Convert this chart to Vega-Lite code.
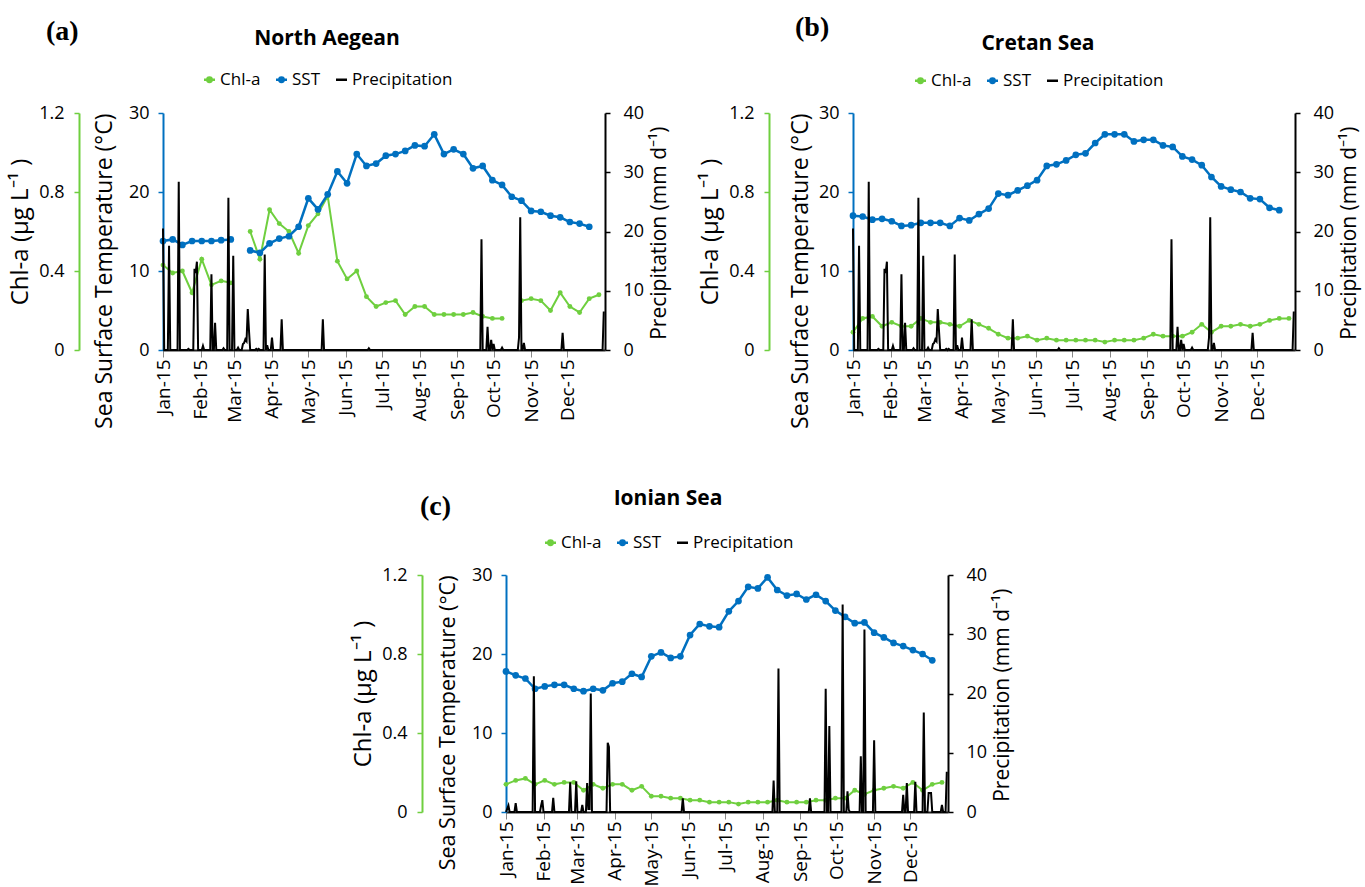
{
  "$schema": "https://vega.github.io/schema/vega-lite/v6.json",
  "background": "white",
  "padding": {"left": 8, "top": 14, "right": 2, "bottom": 0},
  "config": {
    "font": "Open Sans",
    "view": {"stroke": null},
    "axis": {"labelFont": "Open Sans", "titleFont": "Open Sans", "labelFontSize": 18, "titleFontSize": 22, "titleFontWeight": "normal", "labelColor": "#000", "titleColor": "#000", "domainWidth": 2, "tickWidth": 1.5, "tickSize": 5, "grid": false},
    "axisX": {"labelFontSize": 19, "tickSize": 7, "domainColor": "#222", "tickColor": "#888", "tickWidth": 1},
    "legend": {"labelFont": "Open Sans", "labelFontSize": 17, "labelColor": "#000", "titleFont": "Open Sans", "titleFontSize": 21, "titleFontWeight": "bold", "titleColor": "#000"},
    "title": {"offset": 0}
  },
  "resolve": {"scale": {"color": "independent"}, "legend": {"color": "independent"}},
  "datasets": {
    "eight": [
      {"region":"N","date":"2015-01-01","chl":0.43,"sst":13.8},{"region":"N","date":"2015-01-09","chl":0.39,"sst":14.0},{"region":"N","date":"2015-01-17","chl":0.40,"sst":13.3},{"region":"N","date":"2015-01-25","chl":0.29,"sst":13.8},{"region":"N","date":"2015-02-02","chl":0.46,"sst":13.8},{"region":"N","date":"2015-02-10","chl":0.33,"sst":13.8},{"region":"N","date":"2015-02-18","chl":0.35,"sst":13.9},{"region":"N","date":"2015-02-26","chl":0.34,"sst":14.0},{"region":"N","date":"2015-03-06","chl":null,"sst":null},{"region":"N","date":"2015-03-14","chl":0.60,"sst":12.6},{"region":"N","date":"2015-03-22","chl":0.46,"sst":12.3},{"region":"N","date":"2015-03-30","chl":0.71,"sst":13.5},{"region":"N","date":"2015-04-07","chl":0.64,"sst":14.1},{"region":"N","date":"2015-04-15","chl":0.60,"sst":14.4},{"region":"N","date":"2015-04-23","chl":0.49,"sst":15.6},{"region":"N","date":"2015-05-01","chl":0.63,"sst":19.2},{"region":"N","date":"2015-05-09","chl":0.69,"sst":17.8},{"region":"N","date":"2015-05-17","chl":0.78,"sst":19.7},{"region":"N","date":"2015-05-25","chl":0.45,"sst":22.6},{"region":"N","date":"2015-06-02","chl":0.36,"sst":21.1},{"region":"N","date":"2015-06-10","chl":0.40,"sst":24.8},{"region":"N","date":"2015-06-18","chl":0.27,"sst":23.3},{"region":"N","date":"2015-06-26","chl":0.22,"sst":23.6},{"region":"N","date":"2015-07-04","chl":0.24,"sst":24.6},{"region":"N","date":"2015-07-12","chl":0.25,"sst":24.8},{"region":"N","date":"2015-07-20","chl":0.18,"sst":25.2},{"region":"N","date":"2015-07-28","chl":0.22,"sst":25.9},{"region":"N","date":"2015-08-05","chl":0.22,"sst":25.8},{"region":"N","date":"2015-08-13","chl":0.18,"sst":27.3},{"region":"N","date":"2015-08-21","chl":0.18,"sst":24.8},{"region":"N","date":"2015-08-29","chl":0.18,"sst":25.4},{"region":"N","date":"2015-09-06","chl":0.18,"sst":24.8},{"region":"N","date":"2015-09-14","chl":0.19,"sst":23.0},{"region":"N","date":"2015-09-22","chl":0.17,"sst":23.3},{"region":"N","date":"2015-09-30","chl":0.16,"sst":21.5},{"region":"N","date":"2015-10-08","chl":0.16,"sst":20.9},{"region":"N","date":"2015-10-16","chl":null,"sst":19.4},{"region":"N","date":"2015-10-24","chl":0.25,"sst":18.9},{"region":"N","date":"2015-11-01","chl":0.26,"sst":17.6},{"region":"N","date":"2015-11-09","chl":0.25,"sst":17.5},{"region":"N","date":"2015-11-17","chl":0.20,"sst":17.0},{"region":"N","date":"2015-11-25","chl":0.29,"sst":16.8},{"region":"N","date":"2015-12-03","chl":0.22,"sst":16.2},{"region":"N","date":"2015-12-11","chl":0.19,"sst":16.0},{"region":"N","date":"2015-12-19","chl":0.26,"sst":15.6},{"region":"N","date":"2015-12-27","chl":0.28,"sst":null},
      {"region":"C","date":"2015-01-01","chl":0.09,"sst":17.0},{"region":"C","date":"2015-01-09","chl":0.16,"sst":16.9},{"region":"C","date":"2015-01-17","chl":0.17,"sst":16.5},{"region":"C","date":"2015-01-25","chl":0.12,"sst":16.6},{"region":"C","date":"2015-02-02","chl":0.14,"sst":16.3},{"region":"C","date":"2015-02-10","chl":0.12,"sst":15.7},{"region":"C","date":"2015-02-18","chl":0.12,"sst":15.8},{"region":"C","date":"2015-02-26","chl":0.16,"sst":16.1},{"region":"C","date":"2015-03-06","chl":0.14,"sst":16.1},{"region":"C","date":"2015-03-14","chl":0.14,"sst":16.1},{"region":"C","date":"2015-03-22","chl":0.13,"sst":15.7},{"region":"C","date":"2015-03-30","chl":0.12,"sst":16.7},{"region":"C","date":"2015-04-07","chl":0.15,"sst":16.4},{"region":"C","date":"2015-04-15","chl":0.13,"sst":17.2},{"region":"C","date":"2015-04-23","chl":0.11,"sst":17.9},{"region":"C","date":"2015-05-01","chl":0.08,"sst":19.8},{"region":"C","date":"2015-05-09","chl":0.06,"sst":19.6},{"region":"C","date":"2015-05-17","chl":0.06,"sst":20.2},{"region":"C","date":"2015-05-25","chl":0.07,"sst":20.8},{"region":"C","date":"2015-06-02","chl":0.05,"sst":21.5},{"region":"C","date":"2015-06-10","chl":0.06,"sst":23.3},{"region":"C","date":"2015-06-18","chl":0.05,"sst":23.5},{"region":"C","date":"2015-06-26","chl":0.05,"sst":24.0},{"region":"C","date":"2015-07-04","chl":0.05,"sst":24.7},{"region":"C","date":"2015-07-12","chl":0.05,"sst":24.9},{"region":"C","date":"2015-07-20","chl":0.05,"sst":26.2},{"region":"C","date":"2015-07-28","chl":0.04,"sst":27.3},{"region":"C","date":"2015-08-05","chl":0.05,"sst":27.3},{"region":"C","date":"2015-08-13","chl":0.05,"sst":27.3},{"region":"C","date":"2015-08-21","chl":0.05,"sst":26.4},{"region":"C","date":"2015-08-29","chl":0.06,"sst":26.6},{"region":"C","date":"2015-09-06","chl":0.08,"sst":26.6},{"region":"C","date":"2015-09-14","chl":0.07,"sst":25.9},{"region":"C","date":"2015-09-22","chl":0.07,"sst":25.7},{"region":"C","date":"2015-09-30","chl":0.07,"sst":24.5},{"region":"C","date":"2015-10-08","chl":0.09,"sst":24.1},{"region":"C","date":"2015-10-16","chl":0.13,"sst":23.4},{"region":"C","date":"2015-10-24","chl":0.09,"sst":21.9},{"region":"C","date":"2015-11-01","chl":0.12,"sst":20.7},{"region":"C","date":"2015-11-09","chl":0.12,"sst":20.3},{"region":"C","date":"2015-11-17","chl":0.13,"sst":20.0},{"region":"C","date":"2015-11-25","chl":0.12,"sst":19.2},{"region":"C","date":"2015-12-03","chl":0.13,"sst":19.1},{"region":"C","date":"2015-12-11","chl":0.15,"sst":18.0},{"region":"C","date":"2015-12-19","chl":0.16,"sst":17.7},{"region":"C","date":"2015-12-27","chl":0.16,"sst":null},
      {"region":"I","date":"2015-01-01","chl":0.14,"sst":17.8},{"region":"I","date":"2015-01-09","chl":0.16,"sst":17.3},{"region":"I","date":"2015-01-17","chl":0.17,"sst":16.9},{"region":"I","date":"2015-01-25","chl":0.14,"sst":15.6},{"region":"I","date":"2015-02-02","chl":0.16,"sst":15.9},{"region":"I","date":"2015-02-10","chl":0.14,"sst":16.1},{"region":"I","date":"2015-02-18","chl":0.15,"sst":16.1},{"region":"I","date":"2015-02-26","chl":0.15,"sst":15.6},{"region":"I","date":"2015-03-06","chl":0.11,"sst":15.3},{"region":"I","date":"2015-03-14","chl":0.14,"sst":15.6},{"region":"I","date":"2015-03-22","chl":0.12,"sst":15.4},{"region":"I","date":"2015-03-30","chl":0.14,"sst":16.3},{"region":"I","date":"2015-04-07","chl":0.14,"sst":16.5},{"region":"I","date":"2015-04-15","chl":0.11,"sst":17.5},{"region":"I","date":"2015-04-23","chl":0.13,"sst":17.1},{"region":"I","date":"2015-05-01","chl":0.08,"sst":19.7},{"region":"I","date":"2015-05-09","chl":0.08,"sst":20.2},{"region":"I","date":"2015-05-17","chl":0.07,"sst":19.5},{"region":"I","date":"2015-05-25","chl":0.07,"sst":19.7},{"region":"I","date":"2015-06-02","chl":0.06,"sst":22.4},{"region":"I","date":"2015-06-10","chl":0.06,"sst":23.8},{"region":"I","date":"2015-06-18","chl":0.05,"sst":23.5},{"region":"I","date":"2015-06-26","chl":0.05,"sst":23.4},{"region":"I","date":"2015-07-04","chl":0.05,"sst":25.4},{"region":"I","date":"2015-07-12","chl":0.04,"sst":26.7},{"region":"I","date":"2015-07-20","chl":0.05,"sst":28.5},{"region":"I","date":"2015-07-28","chl":0.05,"sst":28.3},{"region":"I","date":"2015-08-05","chl":0.05,"sst":29.7},{"region":"I","date":"2015-08-13","chl":0.06,"sst":28.1},{"region":"I","date":"2015-08-21","chl":0.05,"sst":27.4},{"region":"I","date":"2015-08-29","chl":0.05,"sst":27.6},{"region":"I","date":"2015-09-06","chl":0.05,"sst":26.9},{"region":"I","date":"2015-09-14","chl":0.06,"sst":27.5},{"region":"I","date":"2015-09-22","chl":0.06,"sst":26.7},{"region":"I","date":"2015-09-30","chl":0.07,"sst":25.5},{"region":"I","date":"2015-10-08","chl":0.07,"sst":24.7},{"region":"I","date":"2015-10-16","chl":0.11,"sst":23.9},{"region":"I","date":"2015-10-24","chl":0.09,"sst":24.0},{"region":"I","date":"2015-11-01","chl":0.11,"sst":22.7},{"region":"I","date":"2015-11-09","chl":0.12,"sst":22.1},{"region":"I","date":"2015-11-17","chl":0.13,"sst":21.4},{"region":"I","date":"2015-11-25","chl":0.12,"sst":21.0},{"region":"I","date":"2015-12-03","chl":0.15,"sst":20.5},{"region":"I","date":"2015-12-11","chl":0.11,"sst":20.0},{"region":"I","date":"2015-12-19","chl":0.14,"sst":19.2},{"region":"I","date":"2015-12-27","chl":0.15,"sst":null}
    ],
    "pAB": [
      {"date":"2015-01-01","p":20.5},{"date":"2015-01-02","p":0},{"date":"2015-01-05","p":0},{"date":"2015-01-06","p":17.6},{"date":"2015-01-07","p":0},{"date":"2015-01-13","p":0},{"date":"2015-01-14","p":28.4},{"date":"2015-01-15","p":0},{"date":"2015-01-21","p":0},{"date":"2015-01-22","p":0.2},{"date":"2015-01-23","p":0},{"date":"2015-01-26","p":0},{"date":"2015-01-27","p":13.7},{"date":"2015-01-28","p":13.0},{"date":"2015-01-29","p":14.9},{"date":"2015-01-30","p":0},{"date":"2015-02-02","p":0},{"date":"2015-02-03","p":0.7},{"date":"2015-02-04","p":0},{"date":"2015-02-09","p":0},{"date":"2015-02-10","p":12.8},{"date":"2015-02-11","p":0},{"date":"2015-02-12","p":0},{"date":"2015-02-13","p":4.6},{"date":"2015-02-14","p":0},{"date":"2015-02-19","p":0},{"date":"2015-02-20","p":0.3},{"date":"2015-02-21","p":0},{"date":"2015-02-23","p":0},{"date":"2015-02-24","p":25.7},{"date":"2015-02-25","p":0},{"date":"2015-02-27","p":0},{"date":"2015-02-28","p":15.9},{"date":"2015-03-01","p":0},{"date":"2015-03-03","p":0},{"date":"2015-03-04","p":0.4},{"date":"2015-03-05","p":0},{"date":"2015-03-07","p":0},{"date":"2015-03-08","p":1.0},{"date":"2015-03-09","p":1.2},{"date":"2015-03-10","p":1.8},{"date":"2015-03-11","p":1.5},{"date":"2015-03-12","p":6.9},{"date":"2015-03-13","p":3.3},{"date":"2015-03-14","p":0},{"date":"2015-03-18","p":0},{"date":"2015-03-19","p":0.2},{"date":"2015-03-20","p":0},{"date":"2015-03-21","p":0.2},{"date":"2015-03-22","p":0},{"date":"2015-03-25","p":0},{"date":"2015-03-26","p":16.1},{"date":"2015-03-27","p":0},{"date":"2015-03-28","p":0.8},{"date":"2015-03-29","p":0},{"date":"2015-03-31","p":0},{"date":"2015-04-01","p":2.1},{"date":"2015-04-02","p":0},{"date":"2015-04-08","p":0},{"date":"2015-04-09","p":5.2},{"date":"2015-04-10","p":0},{"date":"2015-05-12","p":0},{"date":"2015-05-13","p":5.2},{"date":"2015-05-14","p":0},{"date":"2015-06-19","p":0},{"date":"2015-06-20","p":0.3},{"date":"2015-06-21","p":0},{"date":"2015-09-20","p":0},{"date":"2015-09-21","p":18.7},{"date":"2015-09-22","p":0},{"date":"2015-09-25","p":0},{"date":"2015-09-26","p":3.9},{"date":"2015-09-27","p":0},{"date":"2015-09-28","p":0},{"date":"2015-09-29","p":1.7},{"date":"2015-09-30","p":0},{"date":"2015-10-01","p":1.0},{"date":"2015-10-02","p":0},{"date":"2015-10-07","p":0},{"date":"2015-10-08","p":0.4},{"date":"2015-10-09","p":0},{"date":"2015-10-21","p":0},{"date":"2015-10-22","p":2.1},{"date":"2015-10-23","p":22.4},{"date":"2015-10-24","p":0},{"date":"2015-10-25","p":0},{"date":"2015-10-26","p":1.2},{"date":"2015-10-27","p":0},{"date":"2015-11-26","p":0},{"date":"2015-11-27","p":2.9},{"date":"2015-11-28","p":0},{"date":"2015-12-30","p":0},{"date":"2015-12-31","p":6.5}
    ],
    "pC": [
      {"date":"2015-01-01","p":0},{"date":"2015-01-03","p":1.1},{"date":"2015-01-04","p":0},{"date":"2015-01-08","p":0},{"date":"2015-01-09","p":1.5},{"date":"2015-01-10","p":0},{"date":"2015-01-23","p":0},{"date":"2015-01-24","p":22.9},{"date":"2015-01-25","p":0},{"date":"2015-01-29","p":0},{"date":"2015-01-30","p":1.1},{"date":"2015-01-31","p":2.0},{"date":"2015-02-01","p":0},{"date":"2015-02-08","p":0},{"date":"2015-02-09","p":2.4},{"date":"2015-02-10","p":0},{"date":"2015-02-22","p":0},{"date":"2015-02-23","p":5.0},{"date":"2015-02-24","p":0},{"date":"2015-02-27","p":0},{"date":"2015-02-28","p":5.2},{"date":"2015-03-01","p":0},{"date":"2015-03-04","p":0},{"date":"2015-03-05","p":1.2},{"date":"2015-03-06","p":0},{"date":"2015-03-08","p":0},{"date":"2015-03-09","p":4.9},{"date":"2015-03-10","p":0.5},{"date":"2015-03-11","p":0.5},{"date":"2015-03-12","p":20.0},{"date":"2015-03-13","p":0},{"date":"2015-03-25","p":0},{"date":"2015-03-26","p":11.7},{"date":"2015-03-27","p":11.0},{"date":"2015-03-28","p":0},{"date":"2015-05-26","p":0},{"date":"2015-05-27","p":2.3},{"date":"2015-05-28","p":0},{"date":"2015-08-09","p":0},{"date":"2015-08-10","p":5.3},{"date":"2015-08-11","p":0},{"date":"2015-08-13","p":0},{"date":"2015-08-14","p":24.2},{"date":"2015-08-15","p":0},{"date":"2015-09-08","p":0},{"date":"2015-09-09","p":2.3},{"date":"2015-09-10","p":0},{"date":"2015-09-21","p":0},{"date":"2015-09-22","p":20.8},{"date":"2015-09-23","p":0},{"date":"2015-09-24","p":0},{"date":"2015-09-25","p":14.5},{"date":"2015-09-26","p":0},{"date":"2015-10-05","p":0},{"date":"2015-10-06","p":35.0},{"date":"2015-10-07","p":0},{"date":"2015-10-09","p":0},{"date":"2015-10-10","p":3.5},{"date":"2015-10-11","p":0.4},{"date":"2015-10-12","p":0},{"date":"2015-10-20","p":0},{"date":"2015-10-21","p":9.4},{"date":"2015-10-22","p":0},{"date":"2015-10-23","p":0},{"date":"2015-10-24","p":30.8},{"date":"2015-10-25","p":0},{"date":"2015-10-31","p":0},{"date":"2015-11-01","p":12.1},{"date":"2015-11-02","p":0},{"date":"2015-11-24","p":0},{"date":"2015-11-25","p":2.9},{"date":"2015-11-26","p":0},{"date":"2015-11-27","p":0},{"date":"2015-11-28","p":4.9},{"date":"2015-11-29","p":0},{"date":"2015-12-04","p":0},{"date":"2015-12-05","p":5.1},{"date":"2015-12-06","p":0},{"date":"2015-12-11","p":0},{"date":"2015-12-12","p":16.8},{"date":"2015-12-13","p":0},{"date":"2015-12-15","p":0},{"date":"2015-12-16","p":3.2},{"date":"2015-12-17","p":3.2},{"date":"2015-12-18","p":3.2},{"date":"2015-12-19","p":0},{"date":"2015-12-26","p":0},{"date":"2015-12-27","p":1.2},{"date":"2015-12-28","p":0},{"date":"2015-12-30","p":0},{"date":"2015-12-31","p":6.8}
    ]
  },
  "spacing": 59,
  "vconcat": [
    {
      "spacing": 28,
      "resolve": {"scale": {"color": "independent"}, "legend": {"color": "independent"}},
      "hconcat": [
        {
          "width": 442, "height": 237,
          "title": {"text": "(a)", "anchor": "start", "frame": "group", "dx": -117, "dy": 22, "font": "Liberation Serif", "fontSize": 28, "fontWeight": "bold", "color": "#000"},
          "encoding": {"x": {"field": "date", "type": "temporal", "scale": {"type": "utc", "domain": [{"year":2015,"month":1,"date":1,"utc":true},{"year":2016,"month":1,"date":1,"utc":true}]}, "axis": {"title": null, "format": "%b-%y", "labelAngle": -90, "values": [{"year":2015,"month":1,"date":1,"utc":true},{"year":2015,"month":2,"date":1,"utc":true},{"year":2015,"month":3,"date":1,"utc":true},{"year":2015,"month":4,"date":1,"utc":true},{"year":2015,"month":5,"date":1,"utc":true},{"year":2015,"month":6,"date":1,"utc":true},{"year":2015,"month":7,"date":1,"utc":true},{"year":2015,"month":8,"date":1,"utc":true},{"year":2015,"month":9,"date":1,"utc":true},{"year":2015,"month":10,"date":1,"utc":true},{"year":2015,"month":11,"date":1,"utc":true},{"year":2015,"month":12,"date":1,"utc":true}]}}},
          "layer": [
            {
              "data": {"name": "eight"}, "transform": [{"filter": "datum.region === 'N'"}],
              "mark": {"type": "line", "strokeWidth": 2, "invalid": "break-paths-show-domains", "point": {"filled": true, "size": 24}},
              "encoding": {
                "y": {"field": "chl", "type": "quantitative", "scale": {"domain": [0, 1.2], "nice": false}, "axis": {"orient": "left", "offset": 84, "values": [0, 0.4, 0.8, 1.2], "labelExpr": "datum.value === 0 ? '0' : format(datum.value, '.1f')", "domainColor": "#6FCF3F", "tickColor": "#6FCF3F", "title": "Chl-a (μg L⁻¹ )", "titleFontSize": 24, "titlePadding": 6, "labelPadding": 10}},
                "color": {"datum": "Chl-a", "scale": {"domain": ["Chl-a", "SST", "Precipitation"], "range": ["#6FCF3F", "#0070C0", "#000000"]},
                  "legend": {"orient": "none", "legendX": 38, "legendY": -85, "direction": "horizontal", "title": "North Aegean", "titleAnchor": "middle", "titleAlign": "center", "titlePadding": 22, "symbolSize": 121, "symbolStrokeWidth": 2.5, "columnPadding": 10, "labelOffset": 2,
                    "encode": {"symbols": {"update": {"shape": {"signal": "datum.value === 'Precipitation' ? 'stroke' : 'M-1,0H1M-0.4,0A0.4,0.4,0,1,1,0.4,0A0.4,0.4,0,1,1,-0.4,0Z'"}, "fill": {"signal": "datum.value === 'Chl-a' ? '#6FCF3F' : datum.value === 'SST' ? '#0070C0' : 'transparent'"}, "stroke": {"signal": "datum.value === 'Chl-a' ? '#6FCF3F' : datum.value === 'SST' ? '#0070C0' : '#000000'"}, "strokeWidth": {"value": 2.5}}}}}}
              }
            },
            {
              "data": {"name": "eight"}, "transform": [{"filter": "datum.region === 'N'"}],
              "mark": {"type": "line", "strokeWidth": 2.5, "invalid": "break-paths-show-domains", "point": {"filled": true, "size": 45}},
              "encoding": {
                "y": {"field": "sst", "type": "quantitative", "scale": {"domain": [0, 30], "nice": false}, "axis": {"orient": "left", "values": [0, 10, 20, 30], "domainColor": "#0070C0", "tickColor": "#0070C0", "title": "Sea Surface Temperature (°C)", "titleFontSize": 23, "titleAnchor": "end", "titlePadding": 12, "labelPadding": 9}},
                "color": {"datum": "SST"}
              }
            },
            {
              "data": {"name": "pAB"},
              "mark": {"type": "line", "strokeWidth": 2},
              "encoding": {
                "y": {"field": "p", "type": "quantitative", "scale": {"domain": [0, 40], "nice": false}, "axis": {"orient": "right", "values": [0, 10, 20, 30, 40], "domainColor": "#000", "tickColor": "#000", "title": "Precipitation (mm d⁻¹)", "titleFontSize": 21, "titleAngle": -90, "titleBaseline": "top", "titleAnchor": "end", "titleY": 13, "titlePadding": 5, "labelPadding": 13}},
                "color": {"datum": "Precipitation"}
              }
            }
          ],
          "resolve": {"scale": {"y": "independent"}}
        },
        {
          "width": 442, "height": 237,
          "title": {"text": "(b)", "anchor": "start", "frame": "group", "dx": -58, "dy": 13, "font": "Liberation Serif", "fontSize": 28, "fontWeight": "bold", "color": "#000"},
          "encoding": {"x": {"field": "date", "type": "temporal", "scale": {"type": "utc", "domain": [{"year":2015,"month":1,"date":1,"utc":true},{"year":2016,"month":1,"date":1,"utc":true}]}, "axis": {"title": null, "format": "%b-%y", "labelAngle": -90, "values": [{"year":2015,"month":1,"date":1,"utc":true},{"year":2015,"month":2,"date":1,"utc":true},{"year":2015,"month":3,"date":1,"utc":true},{"year":2015,"month":4,"date":1,"utc":true},{"year":2015,"month":5,"date":1,"utc":true},{"year":2015,"month":6,"date":1,"utc":true},{"year":2015,"month":7,"date":1,"utc":true},{"year":2015,"month":8,"date":1,"utc":true},{"year":2015,"month":9,"date":1,"utc":true},{"year":2015,"month":10,"date":1,"utc":true},{"year":2015,"month":11,"date":1,"utc":true},{"year":2015,"month":12,"date":1,"utc":true}]}}},
          "layer": [
            {
              "data": {"name": "eight"}, "transform": [{"filter": "datum.region === 'C'"}],
              "mark": {"type": "line", "strokeWidth": 2, "invalid": "break-paths-show-domains", "point": {"filled": true, "size": 24}},
              "encoding": {
                "y": {"field": "chl", "type": "quantitative", "scale": {"domain": [0, 1.2], "nice": false}, "axis": {"orient": "left", "offset": 84, "values": [0, 0.4, 0.8, 1.2], "labelExpr": "datum.value === 0 ? '0' : format(datum.value, '.1f')", "domainColor": "#6FCF3F", "tickColor": "#6FCF3F", "title": "Chl-a (μg L⁻¹ )", "titleFontSize": 24, "titlePadding": 6, "labelPadding": 10}},
                "color": {"datum": "Chl-a", "scale": {"domain": ["Chl-a", "SST", "Precipitation"], "range": ["#6FCF3F", "#0070C0", "#000000"]},
                  "legend": {"orient": "none", "legendX": 59, "legendY": -80, "direction": "horizontal", "title": "Cretan Sea", "titleAnchor": "middle", "titleAlign": "center", "titlePadding": 18, "symbolSize": 121, "symbolStrokeWidth": 2.5, "columnPadding": 10, "labelOffset": 2,
                    "encode": {"symbols": {"update": {"shape": {"signal": "datum.value === 'Precipitation' ? 'stroke' : 'M-1,0H1M-0.4,0A0.4,0.4,0,1,1,0.4,0A0.4,0.4,0,1,1,-0.4,0Z'"}, "fill": {"signal": "datum.value === 'Chl-a' ? '#6FCF3F' : datum.value === 'SST' ? '#0070C0' : 'transparent'"}, "stroke": {"signal": "datum.value === 'Chl-a' ? '#6FCF3F' : datum.value === 'SST' ? '#0070C0' : '#000000'"}, "strokeWidth": {"value": 2.5}}}}}}
              }
            },
            {
              "data": {"name": "eight"}, "transform": [{"filter": "datum.region === 'C'"}],
              "mark": {"type": "line", "strokeWidth": 2.5, "invalid": "break-paths-show-domains", "point": {"filled": true, "size": 45}},
              "encoding": {
                "y": {"field": "sst", "type": "quantitative", "scale": {"domain": [0, 30], "nice": false}, "axis": {"orient": "left", "values": [0, 10, 20, 30], "domainColor": "#0070C0", "tickColor": "#0070C0", "title": "Sea Surface Temperature (°C)", "titleFontSize": 23, "titleAnchor": "end", "titlePadding": 6, "labelPadding": 9}},
                "color": {"datum": "SST"}
              }
            },
            {
              "data": {"name": "pAB"},
              "mark": {"type": "line", "strokeWidth": 2},
              "encoding": {
                "y": {"field": "p", "type": "quantitative", "scale": {"domain": [0, 40], "nice": false}, "axis": {"orient": "right", "values": [0, 10, 20, 30, 40], "domainColor": "#000", "tickColor": "#000", "title": "Precipitation (mm d⁻¹)", "titleFontSize": 21, "titleAngle": -90, "titleBaseline": "top", "titleAnchor": "end", "titleY": 13, "titlePadding": 5, "labelPadding": 13}},
                "color": {"datum": "Precipitation"}
              }
            }
          ],
          "resolve": {"scale": {"y": "independent"}}
        }
      ]
    },
    {
      "spacing": 0,
      "resolve": {"scale": {"color": "independent"}, "legend": {"color": "independent"}},
      "hconcat": [
        {"width": 188, "height": 10, "data": {"values": []}, "mark": "point"},
        {
          "width": 442, "height": 237,
          "title": {"text": "(c)", "anchor": "start", "frame": "group", "dx": -86, "dy": 37, "font": "Liberation Serif", "fontSize": 28, "fontWeight": "bold", "color": "#000"},
          "encoding": {"x": {"field": "date", "type": "temporal", "scale": {"type": "utc", "domain": [{"year":2015,"month":1,"date":1,"utc":true},{"year":2016,"month":1,"date":1,"utc":true}]}, "axis": {"title": null, "format": "%b-%y", "labelAngle": -90, "values": [{"year":2015,"month":1,"date":1,"utc":true},{"year":2015,"month":2,"date":1,"utc":true},{"year":2015,"month":3,"date":1,"utc":true},{"year":2015,"month":4,"date":1,"utc":true},{"year":2015,"month":5,"date":1,"utc":true},{"year":2015,"month":6,"date":1,"utc":true},{"year":2015,"month":7,"date":1,"utc":true},{"year":2015,"month":8,"date":1,"utc":true},{"year":2015,"month":9,"date":1,"utc":true},{"year":2015,"month":10,"date":1,"utc":true},{"year":2015,"month":11,"date":1,"utc":true},{"year":2015,"month":12,"date":1,"utc":true}]}}},
          "layer": [
            {
              "data": {"name": "eight"}, "transform": [{"filter": "datum.region === 'I'"}],
              "mark": {"type": "line", "strokeWidth": 2, "invalid": "break-paths-show-domains", "point": {"filled": true, "size": 24}},
              "encoding": {
                "y": {"field": "chl", "type": "quantitative", "scale": {"domain": [0, 1.2], "nice": false}, "axis": {"orient": "left", "offset": 84, "values": [0, 0.4, 0.8, 1.2], "labelExpr": "datum.value === 0 ? '0' : format(datum.value, '.1f')", "domainColor": "#6FCF3F", "tickColor": "#6FCF3F", "title": "Chl-a (μg L⁻¹ )", "titleFontSize": 24, "titlePadding": 6, "labelPadding": 10}},
                "color": {"datum": "Chl-a", "scale": {"domain": ["Chl-a", "SST", "Precipitation"], "range": ["#6FCF3F", "#0070C0", "#000000"]},
                  "legend": {"orient": "none", "legendX": 36, "legendY": -87, "direction": "horizontal", "title": "Ionian Sea", "titleAnchor": "middle", "titleAlign": "center", "titlePadding": 25, "symbolSize": 121, "symbolStrokeWidth": 2.5, "columnPadding": 10, "labelOffset": 2,
                    "encode": {"symbols": {"update": {"shape": {"signal": "datum.value === 'Precipitation' ? 'stroke' : 'M-1,0H1M-0.4,0A0.4,0.4,0,1,1,0.4,0A0.4,0.4,0,1,1,-0.4,0Z'"}, "fill": {"signal": "datum.value === 'Chl-a' ? '#6FCF3F' : datum.value === 'SST' ? '#0070C0' : 'transparent'"}, "stroke": {"signal": "datum.value === 'Chl-a' ? '#6FCF3F' : datum.value === 'SST' ? '#0070C0' : '#000000'"}, "strokeWidth": {"value": 2.5}}}}}}
              }
            },
            {
              "data": {"name": "eight"}, "transform": [{"filter": "datum.region === 'I'"}],
              "mark": {"type": "line", "strokeWidth": 2.5, "invalid": "break-paths-show-domains", "point": {"filled": true, "size": 45}},
              "encoding": {
                "y": {"field": "sst", "type": "quantitative", "scale": {"domain": [0, 30], "nice": false}, "axis": {"orient": "left", "values": [0, 10, 20, 30], "domainColor": "#0070C0", "tickColor": "#0070C0", "title": "Sea Surface Temperature (°C)", "titleFontSize": 21.5, "titleAnchor": "end", "titlePadding": 12, "labelPadding": 9}},
                "color": {"datum": "SST"}
              }
            },
            {
              "data": {"name": "pC"},
              "mark": {"type": "line", "strokeWidth": 2},
              "encoding": {
                "y": {"field": "p", "type": "quantitative", "scale": {"domain": [0, 40], "nice": false}, "axis": {"orient": "right", "values": [0, 10, 20, 30, 40], "domainColor": "#000", "tickColor": "#000", "title": "Precipitation (mm d⁻¹)", "titleFontSize": 21, "titleAngle": -90, "titleBaseline": "top", "titleAnchor": "end", "titleY": 13, "titlePadding": 5, "labelPadding": 13}},
                "color": {"datum": "Precipitation"}
              }
            }
          ],
          "resolve": {"scale": {"y": "independent"}}
        }
      ]
    }
  ]
}
